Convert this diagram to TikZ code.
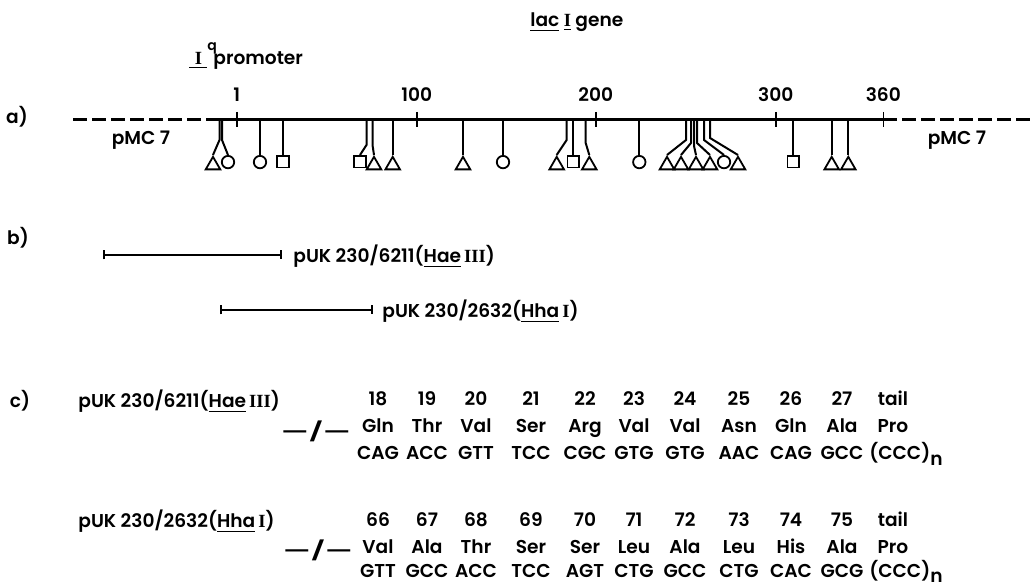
\documentclass[tikz,border=0pt]{standalone}
\usepackage{fontspec}
\setmainfont{Poppins}
\newfontfamily\lblfont{Poppins SemiBold}
\newfontfamily\serif{Liberation Serif}
\usetikzlibrary{shapes.geometric,arrows.meta}

\tikzset{
  mtri/.style={draw,regular polygon,regular polygon sides=3,minimum size=8.4pt,inner sep=0pt,anchor=north,line width=0.9pt},
  mcirc/.style={draw,circle,minimum size=6.2pt,inner sep=0pt,anchor=north,line width=0.9pt},
  msq/.style={draw,rectangle,minimum size=5.8pt,inner sep=0pt,anchor=north,line width=0.9pt},
  lbl/.style={font=\fontsize{9.3}{11}\lblfont,inner sep=0pt,anchor=base},
  stem/.style={line width=1pt},
  vecline/.style={line width=1.5pt},
  vecdash/.style={line width=1.5pt,dash pattern=on 7pt off 2.5pt},
  clone/.style={line width=1pt,{Bar[width=4.5pt]}-{Bar[width=4.5pt]}}
}
\newcommand{\romI}{{\serif\bfseries I}}
\newcommand{\romIII}{{\serif\bfseries III}}
\newcommand{\brk}{\scalebox{1.6}[1]{—/—}}

\begin{document}
\begin{tikzpicture}[x=0.5pt,y=-0.5pt]
  \useasboundingbox (0,0) rectangle (1035,587);
  % a) the lacI region of pMC7
  \coordinate (vl) at (73,120); \coordinate (ax0) at (219,120); \coordinate (ax1) at (883.3,120); \coordinate (vr) at (1032,120);
  \draw[vecdash] (vl)--(ax0); \draw[vecline] (ax0)--(ax1); \draw[vecdash] (ax1)--(vr);
  \foreach \x/\n in {236.7/1,416.7/100,595.7/200,775.7/300,883.3/360}{
    \draw[line width=0.8pt] (\x,112)--(\x,127); \node[lbl] (t\n) at (\x,102) {\n};
  }
  \node[lbl] (la) at (17,124) {a)};
  \node[lbl] (pmcl) at (141,145) {pMC 7}; \node[lbl] (pmcr) at (957,145) {pMC 7};
  \node[lbl,anchor=base west] (gene) at (530,27) {\underline{lac} \underline{\romI} gene};
  \node[lbl,anchor=base west] (prom) at (189,65) {\underline{\hbox to 9pt{\hss\romI\hss}}\rlap{\raisebox{7pt}{\fontsize{7}{8}\selectfont q}}\kern3pt promoter};
  \foreach \sx/\by/\mx/\kind [count=\i] in {219.5/140/213/mtri,222/140/228/mcirc,260/150/260/mcirc,283/150/283/msq,
      366.5/145/360/msq,372.5/145/374/mtri,392.7/150/392.7/mtri,463/150/463/mtri,503/150/503/mcirc,
      566.7/140/556.7/mtri,573.3/150/573.3/msq,585.7/143/589.3/mtri,639.3/150/639.3/mcirc,
      686/140/667/mtri,691/143/681/mtri,694/146/696/mtri,697/143/710/mtri,704/140/724/mcirc,710/138/738/mtri,
      793.3/150/793.3/msq,831.7/150/831.7/mtri,848.3/150/848.3/mtri}{
    \coordinate (s\i) at (\sx,120); \node[style=\kind] (m\i) at (\mx,155) {};
    \draw[stem] (s\i)--(\sx,\by)--(m\i.north);
  }
  % b) the two clones
  \node[lbl] (lb) at (18,245) {b)};
  \coordinate (c1l) at (103,255); \coordinate (c1r) at (282,255); \draw[clone] (c1l)--(c1r);
  \node[lbl,anchor=base west] (puk1) at (293,263) {pUK 230/6211(\underline{Hae}\,\romIII)};
  \coordinate (c2l) at (220,310); \coordinate (c2r) at (373,310); \draw[clone] (c2l)--(c2r);
  \node[lbl,anchor=base west] (puk2) at (382,318) {pUK 230/2632(\underline{Hha}\,\romI)};
  % c) sequences at the junctions
  \node[lbl] (lc) at (20,408) {c)};
  \node[lbl,anchor=base west] (seq1) at (78,408) {pUK 230/6211(\underline{Hae}\,\romIII)};
  \node[lbl,anchor=base west] (seq2) at (78,528) {pUK 230/2632(\underline{Hha}\,\romI)};
  \node[lbl] (brk1) at (316,439) {\brk}; \node[lbl] (brk2) at (318,558) {\brk};
  \foreach \x/\n/\a/\c [count=\k] in {378/18/Gln/CAG,427/19/Thr/ACC,476/20/Val/GTT,531/21/Ser/TCC,585/22/Arg/CGC,
      634/23/Val/GTG,685/24/Val/GTG,739/25/Asn/AAC,791/26/Gln/CAG,842/27/Ala/GCC}{
    \node[lbl] (a\k) at (\x,406) {\n}; \node[lbl] (b\k) at (\x,433) {\a}; \node[lbl] (c\k) at (\x,460) {\c};
  }
  \node[lbl] (atail) at (893,406) {tail}; \node[lbl] (btail) at (893,433) {Pro};
  \node[lbl,anchor=base west] (ctail) at (869,460) {(CCC)\raisebox{-3pt}{n}};
  \foreach \x/\n/\a/\c [count=\k] in {378/66/Val/GTT,427/67/Ala/GCC,476/68/Thr/ACC,531/69/Ser/TCC,585/70/Ser/AGT,
      634/71/Leu/CTG,685/72/Ala/GCC,739/73/Leu/CTG,791/74/His/CAC,842/75/Ala/GCG}{
    \node[lbl] (d\k) at (\x,527) {\n}; \node[lbl] (e\k) at (\x,554) {\a}; \node[lbl] (f\k) at (\x,578) {\c};
  }
  \node[lbl] (dtail) at (893,527) {tail}; \node[lbl] (etail) at (893,554) {Pro};
  \node[lbl,anchor=base west] (ftail) at (869,578) {(CCC)\raisebox{-2.5pt}{n}};
\end{tikzpicture}
\end{document}
